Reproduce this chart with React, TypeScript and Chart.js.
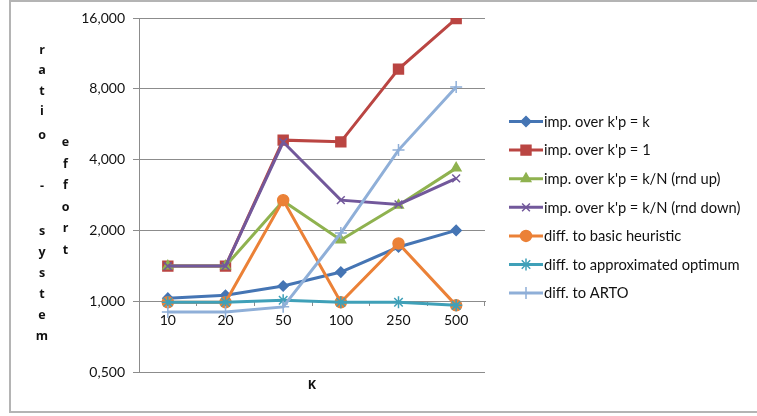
import React, { useEffect, useRef } from 'react';
import { Chart, registerables } from 'chart.js';
import { drawPoint } from 'chart.js/helpers';

Chart.register(...registerables);

const categories = ['10', '20', '50', '100', '250', '500'];
const impOverK = [1.03, 1.06, 1.16, 1.33, 1.70, 2.0];
const impOverOne = [1.41, 1.41, 4.84, 4.76, 9.7, 15.9];
const impOverKNUp = [1.41, 1.41, 2.67, 1.82, 2.56, 3.68];
const impOverKNDown = [1.41, 1.41, 4.75, 2.69, 2.58, 3.33];
const diffBasic = [0.99, 0.99, 2.69, 0.99, 1.76, 0.96];
const diffApprox = [0.99, 0.99, 1.01, 0.99, 0.99, 0.96];
const diffArto = [0.90, 0.90, 0.946, 1.95, 4.39, 8.15];
const yTickValues = [0.5, 1, 2, 4, 8, 16];

const seriesNames = [
  "imp. over k'p = k",
  "imp. over k'p = 1",
  "imp. over k'p = k/N (rnd up)",
  "imp. over k'p = k/N (rnd down)",
  'diff. to basic heuristic',
  'diff. to approximated optimum',
  'diff. to ARTO',
];
const seriesValues = [impOverK, impOverOne, impOverKNUp, impOverKNDown, diffBasic, diffApprox, diffArto];
const seriesColors = ['#4575B4', '#BA4542', '#8FB24F', '#72589B', '#EB8137', '#3FA0B8', '#8FAFD8'];
const seriesMarkers = ['rectRot', 'rect', 'triangle', 'crossRot', 'circle', 'star', 'cross'];
const seriesRadius = [5, 7, 5.5, 5.5, 5.5, 6, 6];

const yTitleCol1 = 'ratio - system';
const yTitleCol2 = 'effort';
const xTitle = 'K';

const FONT = 'Lato, "Open Sans", sans-serif';
const TITLE_FONT = '"Open Sans", Lato, sans-serif';

const fmt = (v: number) => v.toFixed(3).replace('.', ',');

const extrasPlugin = {
  id: 'extras',
  afterDraw(chart: any) {
    const ctx = chart.ctx as CanvasRenderingContext2D;
    ctx.save();
    // stacked y-axis title letters
    ctx.fillStyle = '#111111';
    ctx.font = `bold 12.5px ${TITLE_FONT}`;
    ctx.textAlign = 'center';
    ctx.textBaseline = 'alphabetic';
    const col1Baselines = [54, 74, 95, 115, 139, 0, 190, 0, 235, 256, 277, 298, 319, 340];
    yTitleCol1.split('').forEach((ch, i) => {
      if (ch.trim()) ctx.fillText(ch, 42, col1Baselines[i]);
    });
    yTitleCol2.split('').forEach((ch, i) => {
      ctx.fillText(ch, 65.5, 146 + i * 21.6);
    });
    // legend
    const lx0 = 509;
    const lx1 = 543;
    ctx.textAlign = 'left';
    ctx.textBaseline = 'middle';
    ctx.font = `14.7px ${FONT}`;
    seriesNames.forEach((name, i) => {
      const y = 121.5 + i * 28.6;
      ctx.strokeStyle = seriesColors[i];
      ctx.fillStyle = seriesColors[i];
      ctx.lineWidth = 3;
      ctx.beginPath();
      ctx.moveTo(lx0, y);
      ctx.lineTo(lx1, y);
      ctx.stroke();
      ctx.lineWidth = 1.5;
      drawPoint(ctx, { pointStyle: seriesMarkers[i] as any, radius: seriesRadius[i], rotation: 0, borderWidth: 1.5 } as any, (lx0 + lx1) / 2, y);
      ctx.fillStyle = '#111111';
      ctx.fillText(name, 544, y + 0.5);
    });
    ctx.restore();
  },
};

export default function App() {
  const canvasRef = useRef<HTMLCanvasElement | null>(null);

  useEffect(() => {
    const canvas = canvasRef.current;
    if (!canvas) return;
    const datasets = seriesNames.map((name, i) => ({
      label: name,
      data: seriesValues[i],
      borderColor: seriesColors[i],
      backgroundColor: seriesColors[i],
      borderWidth: 3,
      pointStyle: seriesMarkers[i],
      pointRadius: seriesRadius[i],
      pointBorderWidth: 1.5,
      pointBackgroundColor: seriesColors[i],
      pointBorderColor: seriesColors[i],
      tension: 0,
      xAxisID: 'x',
      yAxisID: 'y',
      order: seriesNames.length - i,
    }));
    const chart = new Chart(canvas, {
      type: 'line',
      data: { labels: categories, datasets },
      options: {
        responsive: false,
        animation: false,
        devicePixelRatio: 1,
        layout: { padding: { top: 18, right: 272, left: 0, bottom: 0 } },
        plugins: { legend: { display: false }, tooltip: { enabled: false } },
        scales: {
          y: {
            type: 'logarithmic',
            position: 'left',
            min: 0.5,
            max: 16,
            afterBuildTicks: (scale: any) => {
              scale.ticks = yTickValues.map((v) => ({ value: v }));
            },
            afterFit: (scale: any) => {
              scale.width = 139;
            },
            ticks: {
              callback: (v: any) => fmt(Number(v)),
              font: { family: FONT, size: 14 },
              color: '#111111',
              padding: 8,
            },
            grid: { color: '#8c8c8c', lineWidth: 1, tickLength: 6, drawTicks: true },
            border: { display: true, color: '#8c8c8c', width: 1 },
          },
          x: {
            axis: 'x',
            type: 'category',
            position: { y: 1 } as any,
            offset: true,
            ticks: {
              font: { family: FONT, size: 14 },
              color: '#111111',
              padding: 7,
              maxRotation: 0,
            },
            grid: { offset: true, drawOnChartArea: false, drawTicks: true, tickLength: 4, color: '#8c8c8c' },
            border: { display: true, color: '#8c8c8c', width: 1 },
          },
          x2: {
            axis: 'x',
            type: 'category',
            position: 'bottom',
            offset: true,
            afterFit: (scale: any) => {
              scale.height = 44;
            },
            ticks: { display: false },
            grid: { display: false },
            border: { display: false },
            title: {
              display: true,
              text: xTitle,
              font: { family: TITLE_FONT, size: 12.5, weight: 'bold' },
              color: '#111111',
              padding: { top: 0, bottom: 23 },
            },
          },
        },
      } as any,
      plugins: [extrasPlugin],
    });
    return () => chart.destroy();
  }, []);

  return (
    <div style={{ position: 'fixed', left: 0, top: 0, width: 757, height: 416, overflow: 'hidden', background: '#fff' }}>
      <div
        style={{
          position: 'absolute',
          left: 9,
          top: 0,
          width: 800,
          height: 413,
          boxSizing: 'border-box',
          border: '2px solid #b4b4b4',
        }}
      />
      <canvas ref={canvasRef} width={757} height={416} style={{ position: 'absolute', left: 0, top: 0, width: 757, height: 416 }} />
    </div>
  );
}
